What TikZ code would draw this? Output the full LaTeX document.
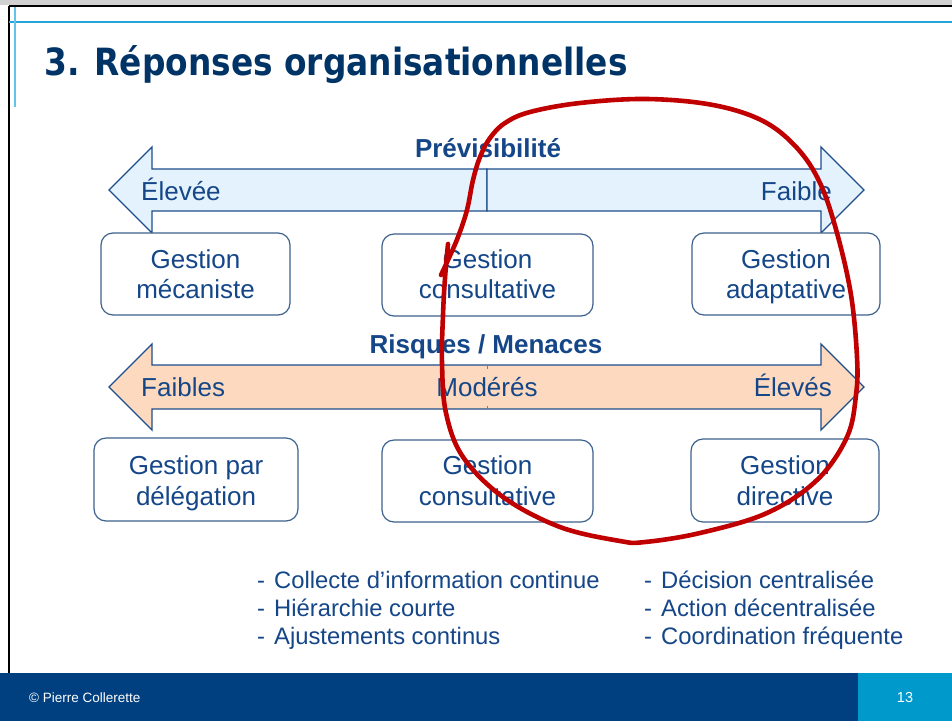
\documentclass[tikz,border=0pt]{standalone}
\usepackage{fontspec}
\setmainfont{Liberation Sans}
\newfontfamily\titlefont{DejaVu Sans}

\definecolor{titlenavy}{RGB}{0,51,102}
\definecolor{txtblue}{RGB}{20,70,136}
\definecolor{boxedge}{RGB}{62,98,142}
\definecolor{arrowedge}{RGB}{30,78,140}
\definecolor{skyfill}{RGB}{228,242,253}
\definecolor{peachfill}{RGB}{252,217,191}
\definecolor{footnavy}{RGB}{0,64,128}
\definecolor{pagecyan}{RGB}{0,153,204}
\definecolor{rulecyan}{RGB}{40,165,216}
\definecolor{rulesky}{RGB}{100,195,232}
\definecolor{inkred}{RGB}{192,0,0}

\tikzset{
  gbox/.style={draw=boxedge, line width=1.2pt, rounded corners=12pt, fill=white, inner sep=0pt},
  btxt/.style={font=\fontsize{26}{30}\selectfont, text=txtblue, inner sep=0pt, anchor=base},
  hdr/.style={font=\fontsize{26}{30}\selectfont\bfseries, text=txtblue, inner sep=0pt, anchor=base},
  blt/.style={font=\fontsize{23.8}{28}\selectfont, text=txtblue, inner sep=0pt, anchor=base west},
  blockarrow/.style={draw=arrowedge, line width=1.3pt, line join=miter},
  inkloop/.style={draw=inkred, line width=4.6pt, line cap=round, line join=round}
}

\begin{document}
\begin{tikzpicture}[x=1pt, y=-1pt]
\useasboundingbox (0,0) rectangle (952,721);
\fill[white] (0,0) rectangle (952,721);

% slide frame
\fill[black!18] (0,0) rectangle (952,4.5);
\draw[black, line width=2.4pt] (9,6) -- (952,6);
\draw[black, line width=2.4pt] (9,6) -- (9,673);
\draw[rulecyan, line width=1.5pt] (9,22) -- (952,22);
\draw[rulesky, line width=2pt] (15,7) -- (15,107);

% title
\node[inner sep=0pt, anchor=base west, text=titlenavy] (title) at (44,75)
  {\scalebox{0.875}[1]{\titlefont\bfseries\fontsize{37.5}{40}\selectfont 3. Réponses organisationnelles}};

% predictability scale
\draw[blockarrow, fill=skyfill] (487,169) -- (152,169) -- (152,147) -- (109,190) -- (152,233) -- (152,211) -- (487,211) -- cycle;
\draw[blockarrow, fill=skyfill] (487,169) -- (821,169) -- (821,147) -- (864,190) -- (821,233) -- (821,211) -- (487,211) -- cycle;
\node[hdr] (prev) at (488,157) {Prévisibilité};
\node[btxt, anchor=base west] (prevhi) at (141,200) {Élevée};
\node[btxt, anchor=base east] (prevlo) at (832,200) {Faible};

% first row of boxes
\node[gbox, minimum width=189pt, minimum height=82pt] (meca) at (195.5,274) {};
\node[btxt] (meca1) at (195.5,268) {Gestion};
\node[btxt] (meca2) at (195.5,298.5) {mécaniste};
\node[gbox, minimum width=211pt, minimum height=82pt] (cons) at (487.5,275) {};
\node[btxt] (cons1) at (487.5,268) {Gestion};
\node[btxt] (cons2) at (487.5,298.5) {consultative};
\node[gbox, minimum width=188pt, minimum height=82pt] (adap) at (786,274) {};
\node[btxt] (adap1) at (786,268) {Gestion};
\node[btxt] (adap2) at (786,298.5) {adaptative};

% risk scale
\draw[blockarrow, fill=peachfill] (152,365) -- (152,344) -- (109,387) -- (152,430) -- (152,409) -- (821,409) -- (821,430) -- (864,387) -- (821,344) -- (821,365) -- cycle;
\draw[arrowedge!70, line width=0.8pt] (487.5,365) -- (487.5,368.5) (487.5,405.5) -- (487.5,409);
\node[hdr] (risk) at (486,353) {Risques / Menaces};
\node[btxt, anchor=base west] (risklo) at (141,396.5) {Faibles};
\node[btxt] (riskmid) at (487,396) {Modérés};
\node[btxt, anchor=base east] (riskhi) at (832,396.5) {Élevés};

% second row of boxes
\node[gbox, minimum width=204pt, minimum height=83pt] (dele) at (196,479.5) {};
\node[btxt] (dele1) at (196,474) {Gestion par};
\node[btxt] (dele2) at (196,505) {délégation};
\node[gbox, minimum width=211pt, minimum height=82pt] (cons2b) at (487.5,481) {};
\node[btxt] (consb1) at (487.5,474) {Gestion};
\node[btxt] (consb2) at (487.5,505) {consultative};
\node[gbox, minimum width=188pt, minimum height=83pt] (dire) at (785,480.5) {};
\node[btxt] (dire1) at (785,474) {Gestion};
\node[btxt] (dire2) at (785,505) {directive};

% feature lists
\node[blt] (la) at (257,588) {-};
\node[blt] (lb) at (257,616) {-};
\node[blt] (lc) at (257,644) {-};
\node[blt] (ta) at (274,588) {Collecte d’information continue};
\node[blt] (tb) at (274,616) {Hiérarchie courte};
\node[blt] (tc) at (274,644) {Ajustements continus};
\node[blt] (ra) at (644,588) {-};
\node[blt] (rb) at (644,616) {-};
\node[blt] (rc) at (644,644) {-};
\node[blt] (sa) at (661,588) {Décision centralisée};
\node[blt] (sb) at (661,616) {Action décentralisée};
\node[blt] (sc) at (661,644) {Coordination fréquente};

% footer
\fill[footnavy] (0,673) rectangle (952,721);
\fill[pagecyan] (858,673) rectangle (952,721);
\node[inner sep=0pt, anchor=base west, text=white, font=\fontsize{13.5}{15}\selectfont] (credit) at (29,702) {© Pierre Collerette};
\node[inner sep=0pt, anchor=base, text=white, font=\fontsize{14.5}{16}\selectfont] (pageno) at (905,702) {13};

% hand-drawn loop
\draw[inkloop] plot[smooth, tension=0.6] coordinates {
  (448,244) (445,278) (443,315) (442,363) (446,413) (463,457) (503,497)
  (560,527) (620,541) (645,542) (700,533) (767,513) (817,480) (847,437)
  (856,395) (857,357) (851,295) (837,233) (820,183) (797,148) (763,121)
  (713,105) (647,99) (580,103) (530,112) (505,123) (490,138) (480,157)
  (473,180) (467,210) (458,237) (448,260) (441,275)};
\end{tikzpicture}
\end{document}
